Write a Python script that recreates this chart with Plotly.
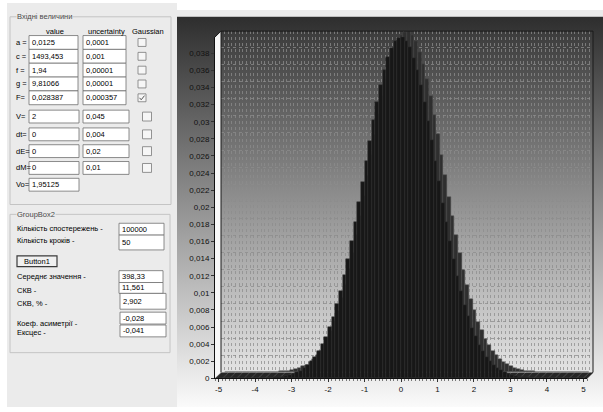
import plotly.graph_objects as go

W, H = 603, 412

# ---------------- chart data ----------------
bin_start = -5.0
bin_width = 0.1
freq = [
    0, 0, 0, 0, 0, 0, 0, 0, 0.00001, 0.00001,
    0.00002, 0.00002, 0.00004, 0.00005, 0.00007, 0.00011, 0.00015, 0.00021, 0.00027, 0.00039,
    0.00052, 0.00070, 0.00090, 0.00120, 0.00156, 0.00197, 0.00254, 0.00316, 0.00398, 0.00487,
    0.00598, 0.00719, 0.00866, 0.01021, 0.01203, 0.01391, 0.01607, 0.01822, 0.02063, 0.02295,
    0.02545, 0.02776, 0.03015, 0.03226, 0.03433, 0.03601, 0.03756, 0.03862, 0.03949, 0.03980,
    0.03987, 0.03941, 0.03871, 0.03748, 0.03609, 0.03424, 0.03235, 0.03006, 0.02784, 0.02537,
    0.02303, 0.02055, 0.01830, 0.01600, 0.01397, 0.01196, 0.01026, 0.00860, 0.00724, 0.00593,
    0.00490, 0.00394, 0.00319, 0.00250, 0.00199, 0.00153, 0.00118, 0.00092, 0.00068, 0.00052,
    0.00037, 0.00029, 0.00020, 0.00014, 0.00010, 0.00007, 0.00005, 0.00003, 0.00002, 0.00002,
    0.00001, 0.00001, 0, 0, 0, 0, 0, 0, 0, 0,
]
centers = [round(bin_start + bin_width * (i + 0.5), 3) for i in range(len(freq))]

x_tick_labels = ["-5", "-4", "-3", "-2", "-1", "0", "1", "2", "3", "4", "5"]
y_tick_labels = ["0", "0,002", "0,004", "0,006", "0,008", "0,01", "0,012", "0,014",
                 "0,016", "0,018", "0,02", "0,022", "0,024", "0,026", "0,028", "0,03",
                 "0,032", "0,034", "0,036", "0,038"]
x_tick_vals = [float(t) for t in x_tick_labels]
y_tick_vals = [float(t.replace(",", ".")) for t in y_tick_labels]

# ---------------- form data ----------------
in_labels = ["a =", "c =", "f =", "g =", "F="]
in_values = ["0,0125", "1493,453", "1,94", "9,81066", "0,028387"]
in_unc = ["0,0001", "0,001", "0,00001", "0,00001", "0,000357"]
in_gauss = [False, False, False, False, True]

in2_labels = ["V=", "dt=", "dE=", "dM=", "Vo="]
in2_values = ["2", "0", "0", "0", "1,95125"]
in2_unc = ["0,045", "0,004", "0,02", "0,01", None]
in2_gauss = [False, False, False, False, None]

g2_labels = ["Кількість спостережень -", "Кількість кроків -", "Середнє значення -",
             "СКВ -", "СКВ, % -", "Коеф. асиметрії -", "Ексцес -"]
g2_values = ["100000", "50", "398,33", "11,561", "2,902", "-0,028", "-0,041"]

# ---------------- geometry ----------------
X_RANGE = [-5.1, 5.1]
Y_RANGE = [0, 0.0399]
FX0, FX1 = 215, 587      # front plane (px)
FYB, FYT = 383, 37.5     # front plane bottom / top (px)
DX, DY = 6, 6            # 3D depth offset
BX0, BX1 = FX0 + DX, FX1 + DX
BYB, BYT = FYB - DY, FYT - DY

def dx(a, b):
    return [a / W, b / W]

def dy(bot, top):
    return [1 - bot / H, 1 - top / H]

FONT = "Liberation Sans"
PANEL = "#ebebeb"

fig = go.Figure()

# background panel gradient
fig.add_trace(go.Scatter(
    x=[177, W, W, 177, 177], y=[17, 17, H, H, 17], mode="lines", line=dict(width=0),
    fill="toself", fillgradient=dict(type="vertical", start=17, stop=H,
                                     colorscale=[[0, "#2e2e2e"], [1, "#fdfdfd"]]),
    hoverinfo="skip", showlegend=False, xaxis="x", yaxis="y"))
# back wall gradient
fig.add_trace(go.Scatter(
    x=[BX0, BX1, BX1, BX0, BX0], y=[BYT, BYT, BYB, BYB, BYT], mode="lines", line=dict(width=0),
    fill="toself", fillgradient=dict(type="vertical", start=BYT, stop=BYB,
                                     colorscale=[[0, "#3c3c3c"], [1, "#e6e6e6"]]),
    hoverinfo="skip", showlegend=False, xaxis="x", yaxis="y"))
# left wall
fig.add_trace(go.Scatter(
    x=[FX0, BX0, BX0, FX0, FX0], y=[FYB, BYB, BYT, FYT, FYB], mode="lines", line=dict(width=0),
    fill="toself", fillcolor="#f8f8f8", hoverinfo="skip", showlegend=False, xaxis="x", yaxis="y"))
# floor
fig.add_trace(go.Scatter(
    x=[FX0, FX1, BX1, BX0, FX0], y=[FYB, FYB, BYB, BYB, FYB], mode="lines", line=dict(width=0),
    fill="toself", fillcolor="#262626",
    fillpattern=dict(shape="/", bgcolor="#262626", fgcolor="#8a8a8a", size=5, solidity=0.15),
    hoverinfo="skip", showlegend=False, xaxis="x", yaxis="y"))

# back copy of bars (3D depth)
fig.add_trace(go.Bar(x=centers, y=freq, width=bin_width, xaxis="x2", yaxis="y2",
                     marker=dict(color="#2f2f2f", line=dict(color="#4c4c4c", width=0.5)),
                     hoverinfo="skip", showlegend=False))
# front bars
fig.add_trace(go.Bar(x=centers, y=freq, width=bin_width, xaxis="x3", yaxis="y3",
                     marker=dict(color="#171717", line=dict(color="#363636", width=0.5)),
                     showlegend=False))

shapes = []
annotations = []

def rect(x0, y0, x1, y1, fill=None, line="#6d6d6d", lw=1):
    shapes.append(dict(type="rect", xref="x", yref="y", x0=x0, y0=y0, x1=x1, y1=y1,
                       fillcolor=fill if fill else "rgba(0,0,0,0)",
                       line=dict(color=line, width=lw)))

def text(x, y, s, anchor="left", color="#000", size=7.5, bg=None):
    a = dict(xref="x", yref="y", x=x, y=y, text=s, showarrow=False, xanchor=anchor,
             yanchor="middle", font=dict(family=FONT, size=size, color=color), borderpad=0)
    if bg:
        a["bgcolor"] = bg
    annotations.append(a)

def textbox(x0, y0, x1, y1, s):
    rect(x0, y0, x1, y1, fill="#ffffff", line="#707070", lw=0.8)
    text(x0 + 2, (y0 + y1) / 2, s)

def checkbox(cx, cy, size, checked):
    h = size / 2
    rect(cx - h, cy - h, cx + h, cy + h, fill="#f6f6f6", line="#7a7a7a", lw=0.8)
    if checked:
        shapes.append(dict(type="path", xref="x", yref="y",
                           path=f"M {cx-2.5} {cy} L {cx-0.8} {cy+2} L {cx+2.5} {cy-2.2}",
                           line=dict(color="#555555", width=1)))

# page panels
shapes.append(dict(type="rect", xref="x", yref="y", x0=7, y0=3, x1=177, y1=H,
                   fillcolor=PANEL, line=dict(width=0), layer="below"))
shapes.append(dict(type="rect", xref="x", yref="y", x0=177, y0=10, x1=W, y1=17,
                   fillcolor=PANEL, line=dict(width=0), layer="below"))

# group box 1
rect(10, 17, 171, 207, line="#c4c4c4", lw=1)
text(16, 17, "Вхідні величини", color="#4a4a4a", bg=PANEL)
text(55, 32, "value", anchor="center")
text(106, 32, "uncertainty", anchor="center")
text(148, 32, "Gaussian", anchor="center")
rows1 = [43, 57, 71, 85, 99]
for i, yc in enumerate(rows1):
    text(15, yc, in_labels[i])
    textbox(29, yc - 7, 78, yc + 7, in_values[i])
    textbox(83, yc - 7, 126, yc + 7, in_unc[i])
    checkbox(142, yc, 8, in_gauss[i])
rows2 = [118, 136, 153, 170, 187]
for i, yc in enumerate(rows2):
    text(15, yc, in2_labels[i])
    textbox(29, yc - 6.5, 79, yc + 6.5, in2_values[i])
    if in2_unc[i] is not None:
        textbox(83, yc - 6.5, 129, yc + 6.5, in2_unc[i])
    if in2_gauss[i] is not None:
        checkbox(147, yc, 9, in2_gauss[i])

# group box 2
rect(10, 217, 170, 357, line="#c4c4c4", lw=1)
text(16, 217, "GroupBox2", color="#4a4a4a", bg=PANEL)
g2_label_y = [231, 243, 280, 294, 307, 327, 337]
g2_boxes = [(119, 226, 164, 238), (119, 238, 164, 253), (119, 274, 163, 286),
            (119, 286, 163, 297), (120, 297, 166, 313), (120, 316, 166, 328),
            (120, 329, 166, 341)]
for lab, yc in zip(g2_labels, g2_label_y):
    text(16, yc, lab)
for (x0, y0, x1, y1), v in zip(g2_boxes, g2_values):
    textbox(x0, y0, x1, y1, v)
rect(17, 259, 57, 270, fill="#f0f0f0", line="#3a3a3a", lw=1.2)
text(37, 264.5, "Button1", anchor="center")

# wall outline
line_col = "#1a1a1a"
for (x0, y0, x1, y1) in [(BX0, BYT, BX1, BYT), (BX1, BYT, BX1, BYB), (BX0, BYT, BX0, BYB),
                         (FX0, FYT, BX0, BYT), (FX1, FYB, BX1, BYB)]:
    shapes.append(dict(type="line", xref="x", yref="y", x0=x0, y0=y0, x1=x1, y1=y1,
                       line=dict(color=line_col, width=1)))

grid_col = "rgba(140,140,140,0.75)"
fig.update_layout(
    width=W, height=H, margin=dict(l=0, r=0, t=0, b=0),
    paper_bgcolor="#ffffff", plot_bgcolor="rgba(0,0,0,0)",
    bargap=0, showlegend=False,
    font=dict(family=FONT, size=8, color="#111"),
    xaxis=dict(domain=[0, 1], range=[0, W], visible=False, fixedrange=True),
    yaxis=dict(domain=[0, 1], range=[H, 0], visible=False, fixedrange=True),
    xaxis2=dict(domain=dx(BX0, BX1), range=X_RANGE, anchor="y2", showgrid=True,
                gridcolor=grid_col, griddash="dot", gridwidth=1, tick0=-5, dtick=0.1,
                showticklabels=False, ticks="", zeroline=False, showline=False),
    yaxis2=dict(domain=dy(BYB, BYT), range=Y_RANGE, anchor="x2", showgrid=True,
                gridcolor=grid_col, griddash="dot", gridwidth=1, tick0=0, dtick=0.002,
                showticklabels=False, ticks="", zeroline=False, showline=False),
    xaxis3=dict(domain=dx(FX0, FX1), range=X_RANGE, anchor="y3", tickmode="array",
                tickvals=x_tick_vals, ticktext=x_tick_labels, ticks="outside", ticklen=3,
                tickcolor="#333", showline=True, linecolor="#111", linewidth=1,
                showgrid=False, zeroline=False,
                minor=dict(tick0=-5, dtick=0.1, ticks="outside", ticklen=2,
                           tickcolor="#777", showgrid=False),
                tickfont=dict(family=FONT, size=8, color="#111")),
    yaxis3=dict(domain=dy(FYB, FYT), range=Y_RANGE, anchor="x3", tickmode="array",
                tickvals=y_tick_vals, ticktext=y_tick_labels, ticks="outside", ticklen=3,
                tickcolor="#333", showline=True, linecolor="#111", linewidth=1,
                showgrid=False, zeroline=False,
                tickfont=dict(family=FONT, size=8, color="#111")),
    shapes=shapes, annotations=annotations,
)

fig.write_html("out.html", config={"displayModeBar": False},
               post_script="document.body.style.margin='0';document.body.style.overflow='hidden';")
